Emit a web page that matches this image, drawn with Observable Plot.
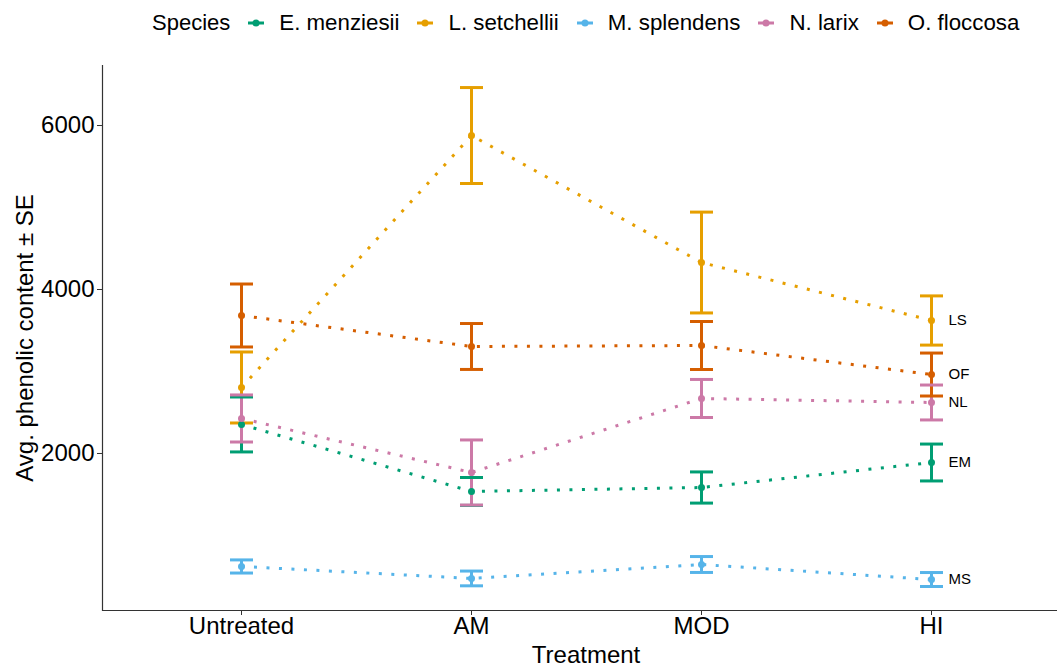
<!DOCTYPE html>
<html>
<head>
<meta charset="utf-8">
<script src="https://cdn.jsdelivr.net/npm/d3@7"></script>
<script src="https://cdn.jsdelivr.net/npm/@observablehq/plot@0.6"></script>
<style>
  html, body { margin: 0; padding: 0; background: #fff; overflow: hidden; }
  body { font-family: "Liberation Sans", Arial, sans-serif; color: #000; width: 1057px; height: 668px; }
  #legend { height: 45px; display: flex; align-items: center; padding-left: 152px; font-size: 22px; white-space: nowrap; }
  #legend .key { margin-left: 16px; display: inline-block; }
  #legend .lab { margin-left: 13px; font-size: 22.3px; }
  #chart svg { display: block; max-width: none !important; }
</style>
</head>
<body>
<div id="legend"></div>
<div id="chart"></div>
<script>
// ---- data ----
const treatments = ["Untreated", "AM", "MOD", "HI"];
const species = ["E. menziesii", "L. setchellii", "M. splendens", "N. larix", "O. floccosa"];
const abbrevs = ["EM", "LS", "MS", "NL", "OF"];
const colors = ["#009E73", "#E69F00", "#56B4E9", "#CC79A7", "#D55E00"];

// mean values per treatment (Untreated, AM, MOD, HI)
const meanEM = [2354, 1537, 1585, 1890];
const meanLS = [2805, 5878, 4329, 3622];
const meanMS = [622, 476, 646, 463];
const meanNL = [2427, 1768, 2671, 2622];
const meanOF = [3683, 3305, 3317, 2963];

// standard errors per treatment
const seEM = [335, 170, 190, 225];
const seLS = [433, 585, 615, 300];
const seMS = [80, 90, 97, 85];
const seNL = [287, 397, 232, 213];
const seOF = [384, 280, 293, 262];

const yTicks = [2000, 4000, 6000];
const yDomain = [85, 6732];

// ---- build table ----
const means = [meanEM, meanLS, meanMS, meanNL, meanOF];
const ses = [seEM, seLS, seMS, seNL, seOF];
const rows = [];
species.forEach((s, i) => {
  treatments.forEach((t, j) => {
    rows.push({species: s, abbrev: abbrevs[i], treatment: t, mean: means[i][j], se: ses[i][j]});
  });
});

// ---- legend ----
const legend = document.getElementById("legend");
const title = document.createElement("span");
title.textContent = "Species";
legend.appendChild(title);
species.forEach((s, i) => {
  const k = document.createElementNS("http://www.w3.org/2000/svg", "svg");
  k.setAttribute("width", 20); k.setAttribute("height", 20); k.setAttribute("class", "key");
  k.innerHTML = `<line x1="2" x2="18" y1="10" y2="10" stroke="${colors[i]}" stroke-width="3"/><circle cx="10" cy="10" r="3.5" fill="${colors[i]}"/>`;
  legend.appendChild(k);
  const l = document.createElement("span");
  l.className = "lab";
  l.textContent = s;
  legend.appendChild(l);
});

// ---- chart ----
const capSymbol = {
  draw(ctx, size) {
    const r = Math.sqrt(size / Math.PI);
    ctx.moveTo(-r, 0);
    ctx.lineTo(r, 0);
  }
};

const chart = Plot.plot({
  width: 1069,
  height: 623,
  marginTop: 20,
  marginBottom: 58,
  marginLeft: 102,
  marginRight: 0,
  style: {fontFamily: "Liberation Sans, Arial, sans-serif", fontSize: "24px", color: "#000", background: "#fff"},
  x: {domain: treatments, type: "point", padding: 0.6, label: null},
  y: {domain: yDomain, label: null},
  color: {domain: species, range: colors},
  marks: [
    Plot.frame({anchor: "left", stroke: "#333", strokeWidth: 1.2}),
    Plot.ruleY([yDomain[0]], {stroke: "#333", strokeWidth: 1.2}),
    Plot.axisY({ticks: yTicks, tickSize: 5, tickPadding: 3, tickFormat: d => String(d), fontSize: 24, label: null, stroke: "#333"}),
    Plot.axisX({tickSize: 5, tickPadding: 1, fontSize: 24, label: null, stroke: "#333"}),
    Plot.line(rows, {x: "treatment", y: "mean", z: "species", stroke: "species", strokeWidth: 3, strokeDasharray: "3,9.5", strokeLinecap: "butt"}),
    Plot.ruleX(rows, {x: "treatment", y1: d => d.mean - d.se, y2: d => d.mean + d.se, stroke: "species", strokeWidth: 3}),
    Plot.dot(rows, {x: "treatment", y: d => d.mean - d.se, symbol: capSymbol, r: 11.5, stroke: "species", strokeWidth: 3, fill: "none"}),
    Plot.dot(rows, {x: "treatment", y: d => d.mean + d.se, symbol: capSymbol, r: 11.5, stroke: "species", strokeWidth: 3, fill: "none"}),
    Plot.dot(rows, {x: "treatment", y: "mean", fill: "species", r: 3.5}),
    Plot.text(rows.filter(d => d.treatment === "HI"), {x: "treatment", y: "mean", text: "abbrev", dx: 17, textAnchor: "start", fontSize: 15, fill: "#000"}),
    Plot.text(["Avg. phenolic content ± SE"], {frameAnchor: "left", textAnchor: "middle", lineAnchor: "middle", rotate: -90, dx: -77, fontSize: 24, fill: "#000"}),
    Plot.text(["Treatment"], {frameAnchor: "bottom", textAnchor: "middle", lineAnchor: "middle", dy: 45, fontSize: 24, fill: "#000"})
  ]
});
document.getElementById("chart").appendChild(chart);
</script>
</body>
</html>
